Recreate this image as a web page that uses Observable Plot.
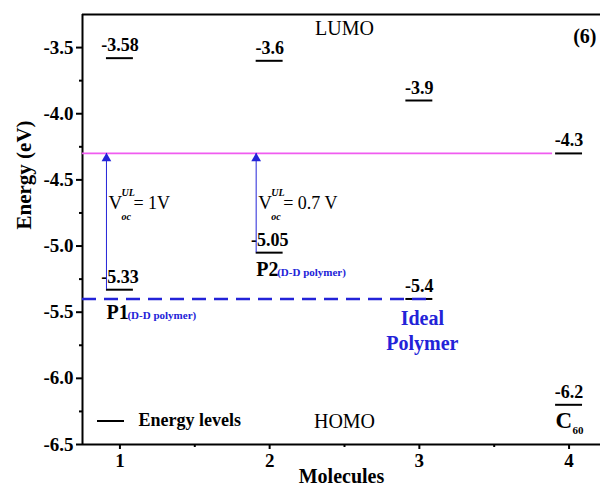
<!DOCTYPE html>
<html>
<head>
<meta charset="utf-8">
<script src="https://cdn.jsdelivr.net/npm/d3@7"></script>
<script src="https://cdn.jsdelivr.net/npm/@observablehq/plot@0.6"></script>
<style>
  html, body { margin: 0; padding: 0; background: #fff; }
  svg { display: block; }
</style>
</head>
<body>
<div id="chart"></div>
<script>
// ---- data ----
const molecules = [1, 2, 3, 4];
const lumo = [-3.58, -3.6, -3.9, -4.3];
const homo = [-5.33, -5.05, -5.4, -6.2];
const lumoLabels = ["-3.58", "-3.6", "-3.9", "-4.3"];
const homoLabels = ["-5.33", "-5.05", "-5.4", "-6.2"];
const polymerNames = ["P1", "P2"];
const vocValues = ["= 1V", "= 0.7 V"];
const yTicks = [-6.5, -6.0, -5.5, -5.0, -4.5, -4.0, -3.5];
const yMinor = [-6.25, -5.75, -5.25, -4.75, -4.25, -3.75];
const xTicks = [1, 2, 3, 4];
const xMinor = [1.5, 2.5, 3.5];

// ---- derived tables ----
const xDomain = [0.75, 4.21];
const yDomain = [-6.5, -3.25];
const hw = 0.09; // half width of an energy level bar (in molecule units)
const levels = molecules.flatMap((m, i) => [
  {m, e: lumo[i], label: lumoLabels[i]},
  {m, e: homo[i], label: homoLabels[i]}
]);
const acceptorLumo = lumo[3];
const idealHomo = homo[2];
const arrows = polymerNames.map((name, i) => ({m: molecules[i], homo: homo[i], lumoA: acceptorLumo, name, voc: vocValues[i]}));

const serif = "'Liberation Serif', 'Times New Roman', serif";
const blue = "#2323d8";

const plot = Plot.plot({
  width: 600,
  height: 485,
  marginTop: 14,
  marginBottom: 41,
  marginLeft: 82,
  marginRight: 0,
  style: {fontFamily: serif, background: "#fff", color: "#000", overflow: "visible"},
  x: {domain: xDomain},
  y: {domain: yDomain},
  marks: [
    // axes
    Plot.axisY({ticks: yTicks, tickSize: 6, tickPadding: 3, strokeWidth: 2, tickFormat: d => d.toFixed(1), fontSize: 19, fontWeight: "bold", fontFamily: serif, label: null}),
    Plot.axisY({ticks: yMinor, tickSize: 3, strokeWidth: 2, tickFormat: () => "", label: null}),
    Plot.axisX({ticks: xTicks, tickSize: 5, tickPadding: 4, strokeWidth: 2, tickFormat: d => String(d), fontSize: 19, fontWeight: "bold", fontFamily: serif, label: null}),
    Plot.axisX({ticks: xMinor, tickSize: 3, strokeWidth: 2, tickFormat: () => "", label: null}),
    Plot.ruleX([xDomain[0]], {strokeWidth: 2}),
    Plot.ruleY([yDomain[0]], {strokeWidth: 2}),
    Plot.ruleY([yDomain[1]], {strokeWidth: 2}),
    // axis labels
    Plot.text(["Molecules"], {frameAnchor: "bottom", dy: 38, fontSize: 20, fontWeight: "bold", fontFamily: serif}),
    Plot.text(["Energy (eV)"], {frameAnchor: "left", dx: -58, rotate: -90, fontSize: 21, fontWeight: "bold", fontFamily: serif}),
    // acceptor LUMO line (magenta)
    Plot.ruleY([acceptorLumo], {x1: xDomain[0], x2: molecules[3] - hw - 0.02, stroke: "#f05cf0", strokeWidth: 1.6}),
    // energy levels
    Plot.ruleY(levels, {y: "e", x1: d => d.m - hw, x2: d => d.m + hw, stroke: "#000", strokeWidth: 2}),
    Plot.text(levels, {x: "m", y: "e", text: "label", lineAnchor: "bottom", dy: -7, fontSize: 18, fontWeight: "bold", fontFamily: serif}),
    // ideal polymer HOMO dashed line
    Plot.ruleY([idealHomo], {x1: xDomain[0], x2: molecules[2] + hw, stroke: blue, strokeWidth: 2.6, strokeDasharray: "14,8"}),
    // Voc arrows
    Plot.ruleX(arrows, {x: d => d.m - hw, y1: "homo", y2: "lumoA", stroke: blue, strokeWidth: 1}),
    Plot.dot(arrows, {x: d => d.m - hw, y: "lumoA", symbol: "triangle", r: 3.6, fill: blue, stroke: null, dy: 5}),
    Plot.text(arrows, {x: d => d.m - hw, y: "lumoA", text: () => "V", textAnchor: "start", dx: 2, dy: 49, fontSize: 19, fontFamily: serif}),
    Plot.text(arrows, {x: d => d.m - hw, y: "lumoA", text: () => "UL", textAnchor: "start", dx: 15, dy: 39, fontSize: 10, fontStyle: "italic", fontWeight: "bold", fontFamily: serif}),
    Plot.text(arrows, {x: d => d.m - hw, y: "lumoA", text: () => "oc", textAnchor: "start", dx: 15, dy: 63, fontSize: 10, fontStyle: "italic", fontWeight: "bold", fontFamily: serif}),
    Plot.text(arrows, {x: d => d.m - hw, y: "lumoA", text: "voc", textAnchor: "start", dx: 27, dy: 50, fontSize: 18, fontFamily: serif}),
    // polymer names
    Plot.text(arrows.slice(0, 1), {x: d => d.m - hw, y: "homo", text: "name", textAnchor: "start", dy: 23, fontSize: 20, fontWeight: "bold", fontFamily: serif}),
    Plot.text(arrows.slice(0, 1), {x: d => d.m - hw, y: "homo", text: () => "(D-D polymer)", textAnchor: "start", dx: 21, dy: 26, fontSize: 11, fontWeight: "bold", fill: blue, fontFamily: serif}),
    Plot.text(arrows.slice(1, 2), {x: d => d.m - hw, y: "homo", text: "name", textAnchor: "start", dy: 17, fontSize: 20, fontWeight: "bold", fontFamily: serif}),
    Plot.text(arrows.slice(1, 2), {x: d => d.m - hw, y: "homo", text: () => "(D-D polymer)", textAnchor: "start", dx: 21, dy: 20, fontSize: 11, fontWeight: "bold", fill: blue, fontFamily: serif}),
    // ideal polymer label
    Plot.text([idealHomo], {x: molecules[2], y: d => d, text: () => "Ideal\nPolymer", lineAnchor: "top", dy: 8, dx: 3, lineHeight: 1.25, fontSize: 20, fontWeight: "bold", fill: blue, fontFamily: serif}),
    // C60 label
    Plot.text([homo[3]], {x: molecules[3] - hw, y: d => d, text: () => "C", textAnchor: "start", dy: 16, fontSize: 23, fontWeight: "bold", fontFamily: serif}),
    Plot.text([homo[3]], {x: molecules[3] - hw, y: d => d, text: () => "60", textAnchor: "start", dx: 17, dy: 26, fontSize: 11, fontWeight: "bold", fontFamily: serif}),
    // annotations
    Plot.text(["LUMO"], {frameAnchor: "top", dy: 6, dx: 3, fontSize: 20, fontFamily: serif}),
    Plot.text(["HOMO"], {frameAnchor: "bottom", dy: -17, dx: 3, fontSize: 20, fontFamily: serif}),
    Plot.text(["(6)"], {frameAnchor: "top-right", textAnchor: "end", dx: -4, dy: 14, fontSize: 20, fontWeight: "bold", fontFamily: serif}),
    Plot.text(["Energy levels"], {frameAnchor: "bottom-left", textAnchor: "start", dx: 56, dy: -19, fontSize: 18, fontWeight: "bold", fontFamily: serif})
  ]
});

// legend swatch line
d3.select(plot).append("line")
  .attr("x1", 97).attr("x2", 124).attr("y1", 421).attr("y2", 421)
  .attr("stroke", "#000").attr("stroke-width", 2);

document.getElementById("chart").appendChild(plot);
</script>
</body>
</html>
